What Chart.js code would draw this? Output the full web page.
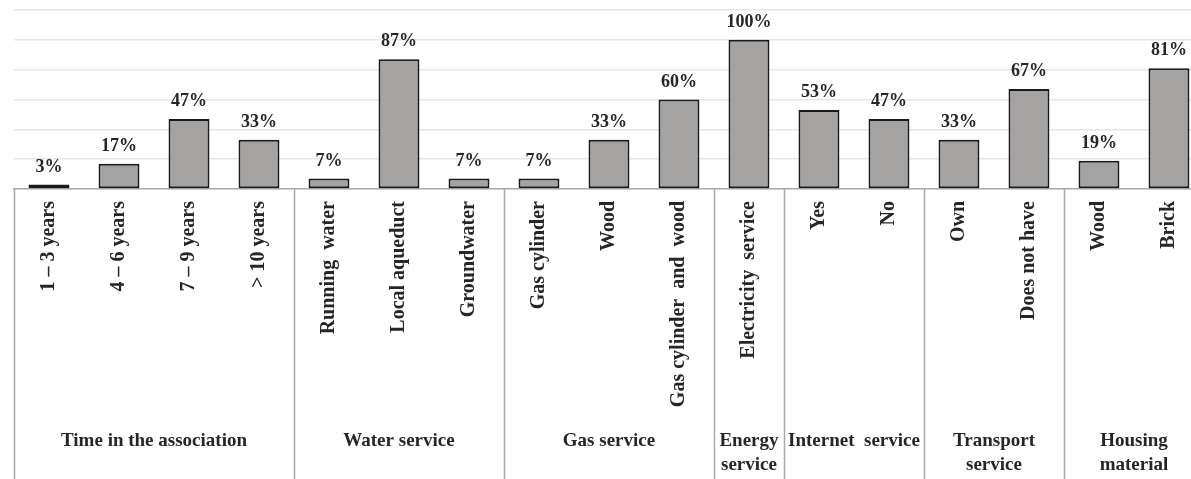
<!DOCTYPE html>
<html>
<head>
<meta charset="utf-8">
<script src="https://cdn.jsdelivr.net/npm/chart.js@4/dist/chart.umd.min.js"></script>
<style>
  html, body { margin: 0; padding: 0; background: #fff; overflow: hidden; }
  #wrap { position: absolute; left: 0; top: 0; width: 1205px; height: 479px; }
</style>
</head>
<body>
<div id="wrap"><canvas id="myChart" width="1205" height="479"></canvas></div>
<script>
// ---------------- data ----------------
var categories = ['1 – 3 years', '4 – 6 years', '7 – 9 years', '> 10 years',
                  'Running  water', 'Local aqueduct', 'Groundwater',
                  'Gas cylinder', 'Wood', 'Gas cylinder  and  wood',
                  'Electricity  service',
                  'Yes', 'No',
                  'Own', 'Does not have',
                  'Wood', 'Brick'];
var values = [3, 17, 47, 33, 7, 87, 7, 7, 33, 60, 100, 53, 47, 33, 67, 19, 81];

// groups: label, first index, last index
var groupNames = [['Time in the association'], ['Water service'], ['Gas service'],
                  ['Energy', 'service'], ['Internet  service'],
                  ['Transport', 'service'], ['Housing', 'material']];
var groupStart = [0, 4, 7, 10, 11, 13, 15];
var groupEnd   = [3, 6, 9, 10, 12, 14, 16];

var yTicks = [0, 20, 40, 60, 80, 100, 120];

var serif = "'Liberation Serif', 'Times New Roman', serif";
var textColor = '#262626';

// ---------------- plugins ----------------
var valueLabels = {
	id: 'valueLabels',
	afterDatasetsDraw: function(chart){
		var ctx = chart.ctx;
		var meta = chart.getDatasetMeta(0);
		ctx.save();
		ctx.font = 'bold 18px ' + serif;
		ctx.fillStyle = textColor;
		ctx.textAlign = 'center';
		ctx.textBaseline = 'alphabetic';
		meta.data.forEach(function(bar, i){
			ctx.fillText(values[i] + '%', bar.x, bar.y - 13);
		});
		ctx.restore();
	}
};

var dividers = {
	id: 'dividers',
	afterDraw: function(chart){
		var ctx = chart.ctx;
		var xs = chart.scales.x;
		ctx.save();
		ctx.strokeStyle = '#a9a9a9';
		ctx.lineWidth = 1.5;
		groupStart.forEach(function(s){
			var px = Math.round(xs.getPixelForValue(s - 0.5)) + 0.5;
			ctx.beginPath();
			ctx.moveTo(px, xs.top);
			ctx.lineTo(px, chart.height);
			ctx.stroke();
		});
		ctx.restore();
	}
};

// ---------------- chart ----------------
var ctx = document.getElementById('myChart').getContext('2d');
var myChart = new Chart(ctx, {
	type: 'bar',
	data: {
		labels: categories,
		datasets: [{
			data: values,
			backgroundColor: '#a5a2a2',
			borderColor: '#1a1a1a',
			borderWidth: 2,
			borderSkipped: false,
			categoryPercentage: 1,
			barPercentage: 0.585
		}]
	},
	options: {
		responsive: false,
		animation: false,
		layout: { padding: { left: 14, right: 1, top: 10, bottom: 0 } },
		plugins: {
			legend: { display: false },
			tooltip: { enabled: false }
		},
		scales: {
			y: {
				min: 0,
				max: 120,
				afterBuildTicks: function(axis){
					axis.ticks = yTicks.map(function(v){ return { value: v }; });
				},
				ticks: { display: false },
				border: { display: false },
				grid: { color: '#e6e6e6', lineWidth: 1.5, drawTicks: false }
			},
			x: {
				position: 'bottom',
				afterFit: function(axis){ axis.height = 228; },
				grid: { display: false, drawTicks: false },
				border: { display: true, color: '#a9a9a9', width: 1.5 },
				ticks: {
					autoSkip: false,
					minRotation: 90,
					maxRotation: 90,
					padding: 12,
					color: textColor,
					font: { family: serif, size: 20, weight: 'bold' }
				}
			},
			groups: {
				type: 'linear',
				position: 'bottom',
				offset: false,
				min: -0.5,
				max: categories.length - 0.5,
				afterFit: function(axis){ axis.height = 62; },
				afterBuildTicks: function(axis){
					axis.ticks = groupStart.map(function(s, i){
						return { value: (s + groupEnd[i]) / 2 };
					});
				},
				grid: { display: false, drawTicks: false, offset: false },
				border: { display: false },
				ticks: {
					autoSkip: false,
					maxRotation: 0,
					padding: 12,
					color: textColor,
					font: { family: serif, size: 19, weight: 'bold', lineHeight: 1.28 },
					callback: function(value){
						for (var i = 0; i < groupStart.length; i++) {
							if (value === (groupStart[i] + groupEnd[i]) / 2) return groupNames[i];
						}
						return '';
					}
				}
			}
		}
	},
	plugins: [valueLabels, dividers]
});
</script>
</body>
</html>
